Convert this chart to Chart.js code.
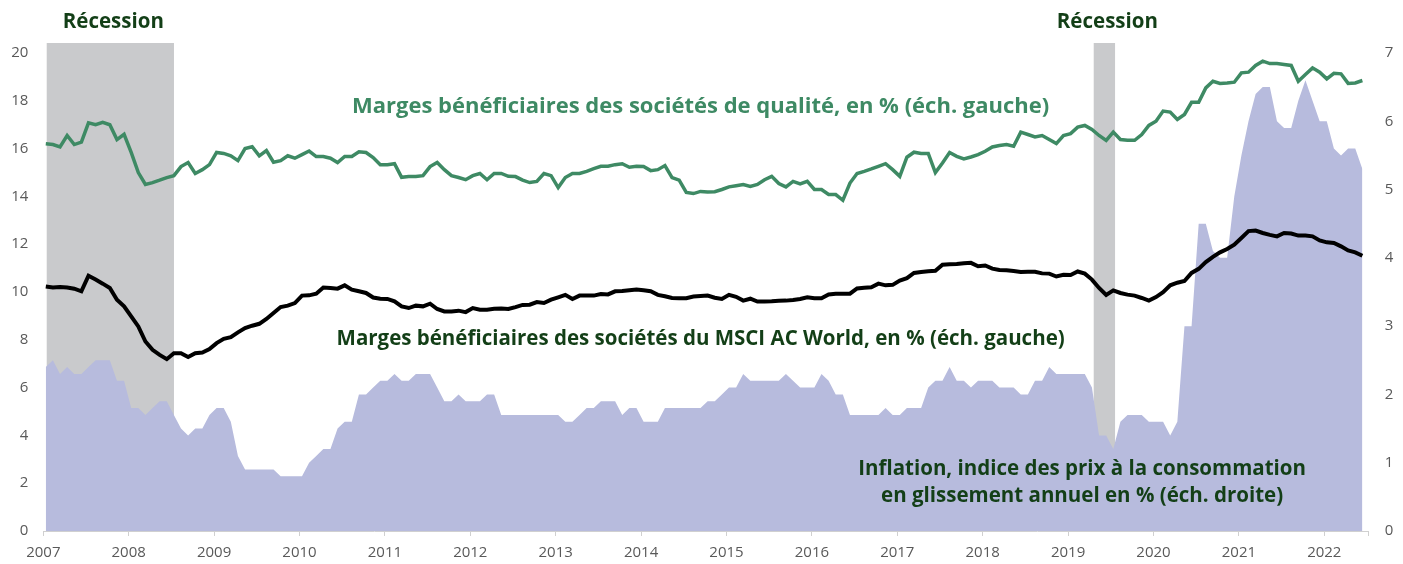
<!DOCTYPE html>
<html lang="fr">
<head>
  <meta charset="UTF-8">
  <title>Marges bénéficiaires et inflation</title>
  <script src="https://cdn.jsdelivr.net/npm/chart.js@4.4.1/dist/chart.umd.min.js"></script>
  <style>
    html, body { margin: 0; padding: 0; background: #fff; }
    #wrap { width: 1403px; height: 564px; position: relative; }
  </style>
</head>
<body>
  <div id="wrap"><canvas id="chart"></canvas></div>
  <script>
    // monthly data, Jan 2007 -> Jun 2022
    const startYear = 2007;
    const yearLabels = [2007, 2008, 2009, 2010, 2011, 2012, 2013, 2014, 2015, 2016, 2017, 2018, 2019, 2020, 2021, 2022];
    const leftTicks = [0, 2, 4, 6, 8, 10, 12, 14, 16, 18, 20];
    const rightTicks = [0, 1, 2, 3, 4, 5, 6, 7];

    // Marges bénéficiaires des sociétés de qualité (%, left)
    const quality = [
      16.2, 16.17, 16.07, 16.55, 16.17, 16.27, 17.08, 17.0, 17.1, 17.0, 16.38, 16.6,
      15.84, 15.0, 14.5, 14.58, 14.68, 14.79, 14.87, 15.25, 15.42, 14.96, 15.12, 15.33,
      15.84, 15.8, 15.7, 15.5, 16.0, 16.08, 15.7, 15.92, 15.43, 15.5, 15.7, 15.6,
      15.75, 15.9, 15.67, 15.67, 15.6, 15.42, 15.67, 15.67, 15.87, 15.84, 15.63, 15.33,
      15.33, 15.37, 14.8, 14.83, 14.83, 14.87, 15.25, 15.42, 15.12, 14.87, 14.79, 14.7,
      14.87, 14.96, 14.7, 14.96, 14.96, 14.84, 14.83, 14.68, 14.58, 14.63, 14.96, 14.87,
      14.37, 14.79, 14.96, 14.96, 15.05, 15.16, 15.26, 15.26, 15.33, 15.37, 15.22, 15.26,
      15.25, 15.08, 15.12, 15.29, 14.79, 14.68, 14.17, 14.12, 14.21, 14.19, 14.2, 14.29,
      14.4, 14.45, 14.5, 14.42, 14.5, 14.7, 14.84, 14.54, 14.4, 14.63, 14.52, 14.63,
      14.29, 14.29, 14.08, 14.08, 13.84, 14.56, 14.96, 15.05, 15.15, 15.26, 15.37, 15.12,
      14.84, 15.64, 15.85, 15.8, 15.8, 15.0, 15.4, 15.84, 15.68, 15.57, 15.65, 15.75,
      15.89, 16.07, 16.13, 16.17, 16.1, 16.69, 16.59, 16.49, 16.55, 16.38, 16.21, 16.55,
      16.63, 16.9, 16.97, 16.8, 16.55, 16.34, 16.69, 16.38, 16.35, 16.35, 16.59, 16.97,
      17.15, 17.57, 17.53, 17.22, 17.43, 17.94, 17.94, 18.54, 18.82, 18.73, 18.75, 18.78,
      19.17, 19.2, 19.48, 19.66, 19.56, 19.56, 19.52, 19.48, 18.82, 19.1, 19.38, 19.2,
      18.92, 19.15, 19.13, 18.73, 18.75, 18.85
    ];

    // Marges bénéficiaires des sociétés du MSCI AC World (%, left)
    const msci = [
      10.23, 10.19, 10.21, 10.19, 10.14, 10.03, 10.68, 10.52, 10.35, 10.17, 9.68, 9.4,
      8.98, 8.56, 7.93, 7.58, 7.37, 7.19, 7.44, 7.44, 7.28, 7.44, 7.47, 7.61,
      7.86, 8.04, 8.11, 8.31, 8.49, 8.59, 8.67, 8.87, 9.12, 9.37, 9.43, 9.54,
      9.85, 9.86, 9.93, 10.19, 10.17, 10.14, 10.28, 10.1, 10.03, 9.96, 9.77, 9.72,
      9.71, 9.61, 9.4, 9.33, 9.43, 9.4, 9.51, 9.29, 9.19, 9.19, 9.22, 9.16,
      9.33, 9.26, 9.26, 9.3, 9.31, 9.29, 9.37, 9.46, 9.47, 9.58, 9.54, 9.68,
      9.78, 9.88, 9.71, 9.85, 9.85, 9.85, 9.92, 9.9, 10.03, 10.04, 10.07, 10.1,
      10.07, 10.03, 9.88, 9.82, 9.75, 9.74, 9.74, 9.81, 9.83, 9.85, 9.76, 9.71,
      9.88, 9.8, 9.64, 9.72, 9.6, 9.6, 9.61, 9.63, 9.64, 9.67, 9.71, 9.78,
      9.74, 9.74, 9.9, 9.93, 9.93, 9.93, 10.15, 10.18, 10.2, 10.35, 10.28, 10.3,
      10.48, 10.58, 10.8, 10.84, 10.87, 10.89, 11.14, 11.16, 11.17, 11.2, 11.22, 11.08,
      11.11, 10.98, 10.92, 10.91, 10.88, 10.84, 10.85, 10.85, 10.78, 10.77, 10.65, 10.72,
      10.71, 10.86, 10.77, 10.52, 10.17, 9.88, 10.07, 9.96, 9.89, 9.85, 9.75, 9.64,
      9.79, 9.99, 10.28, 10.39, 10.46, 10.8, 10.97, 11.25, 11.47, 11.66, 11.8, 11.98,
      12.26, 12.55, 12.57, 12.47, 12.39, 12.33, 12.47, 12.45, 12.36, 12.36, 12.33, 12.16,
      12.08, 12.05, 11.91, 11.74, 11.66, 11.52
    ];

    // Inflation, glissement annuel (%, right)
    const inflation = [
      2.4, 2.5, 2.3, 2.4, 2.3, 2.3, 2.4, 2.5, 2.5, 2.5, 2.2, 2.2,
      1.8, 1.8, 1.7, 1.8, 1.9, 1.9, 1.7, 1.5, 1.4, 1.5, 1.5, 1.7,
      1.8, 1.8, 1.6, 1.1, 0.9, 0.9, 0.9, 0.9, 0.9, 0.8, 0.8, 0.8,
      0.8, 1.0, 1.1, 1.2, 1.2, 1.5, 1.6, 1.6, 2.0, 2.0, 2.1, 2.2,
      2.2, 2.3, 2.2, 2.2, 2.3, 2.3, 2.3, 2.1, 1.9, 1.9, 2.0, 1.9,
      1.9, 1.9, 2.0, 2.0, 1.7, 1.7, 1.7, 1.7, 1.7, 1.7, 1.7, 1.7,
      1.7, 1.6, 1.6, 1.7, 1.8, 1.8, 1.9, 1.9, 1.9, 1.7, 1.8, 1.8,
      1.6, 1.6, 1.6, 1.8, 1.8, 1.8, 1.8, 1.8, 1.8, 1.9, 1.9, 2.0,
      2.1, 2.1, 2.3, 2.2, 2.2, 2.2, 2.2, 2.2, 2.3, 2.2, 2.1, 2.1,
      2.1, 2.3, 2.2, 2.0, 2.0, 1.7, 1.7, 1.7, 1.7, 1.7, 1.8, 1.7,
      1.7, 1.8, 1.8, 1.8, 2.1, 2.2, 2.2, 2.4, 2.2, 2.2, 2.1, 2.2,
      2.2, 2.2, 2.1, 2.1, 2.1, 2.0, 2.0, 2.2, 2.2, 2.4, 2.3, 2.3,
      2.3, 2.3, 2.3, 2.1, 1.4, 1.4, 1.2, 1.6, 1.7, 1.7, 1.7, 1.6,
      1.6, 1.6, 1.4, 1.6, 3.0, 3.0, 4.5, 4.5, 4.1, 4.0, 4.0, 4.9,
      5.5, 6.0, 6.4, 6.5, 6.5, 6.0, 5.9, 5.9, 6.3, 6.6, 6.3, 6.0,
      6.0, 5.6, 5.5, 5.6, 5.6, 5.3
    ];

    // shaded recession periods (decimal years)
    const recessions = [[2007.04, 2008.53], [2019.30, 2019.55]];

    const toPoints = arr => arr.map((v, i) => ({ x: startYear + (i + 0.35) / 12, y: v }));

    const FONT = "'Open Sans', 'Noto Sans', sans-serif";
    const DARK = '#133f17';
    const GREEN = '#3e8a64';

    const overlay = {
      id: 'overlay',
      beforeDatasetsDraw(chart) {
        const { ctx, chartArea, scales: { x } } = chart;
        ctx.save();
        ctx.fillStyle = '#c9cacc';
        recessions.forEach(([a, b]) => {
          const x0 = x.getPixelForValue(a), x1 = x.getPixelForValue(b);
          ctx.fillRect(x0, chartArea.top, x1 - x0, chartArea.bottom - chartArea.top);
        });
        ctx.restore();
      },
      afterDraw(chart) {
        const { ctx, chartArea, scales: { x, y, y2 } } = chart;
        ctx.save();
        ctx.textAlign = 'center';
        ctx.textBaseline = 'middle';
        ctx.font = `bold 20.5px ${FONT}`;
        ctx.fillStyle = DARK;
        recessions.forEach(([a, b]) => {
          const cx = (x.getPixelForValue(a) + x.getPixelForValue(b)) / 2;
          ctx.fillText('Récession', cx + 3, chartArea.top - 21);
        });
        ctx.fillText('Marges bénéficiaires des sociétés du MSCI AC World, en % (éch. gauche)',
          x.getPixelForValue(2014.697), y.getPixelForValue(8.02));
        ctx.fillText('Inflation, indice des prix à la consommation',
          x.getPixelForValue(2019.164), y2.getPixelForValue(0.90));
        ctx.fillText('en glissement annuel en % (éch. droite)',
          x.getPixelForValue(2019.164), y2.getPixelForValue(0.51));
        ctx.font = `bold 22px ${FONT}`;
        ctx.fillStyle = GREEN;
        ctx.fillText('Marges bénéficiaires des sociétés de qualité, en % (éch. gauche)',
          x.getPixelForValue(2014.697), y.getPixelForValue(17.75));
        ctx.restore();
      }
    };

    new Chart(document.getElementById('chart'), {
      type: 'line',
      data: {
        datasets: [
          {
            label: 'Marges bénéficiaires des sociétés de qualité',
            data: toPoints(quality),
            yAxisID: 'y',
            borderColor: GREEN,
            borderWidth: 3.5,
            pointRadius: 0,
            tension: 0,
            fill: false
          },
          {
            label: 'Marges bénéficiaires des sociétés du MSCI AC World',
            data: toPoints(msci),
            yAxisID: 'y',
            borderColor: '#000000',
            borderWidth: 4,
            pointRadius: 0,
            tension: 0,
            fill: false
          },
          {
            label: 'Inflation',
            data: toPoints(inflation),
            yAxisID: 'y2',
            borderWidth: 0,
            borderColor: 'rgba(0,0,0,0)',
            backgroundColor: '#b7bbdd',
            pointRadius: 0,
            tension: 0,
            fill: 'origin'
          }
        ]
      },
      options: {
        responsive: true,
        maintainAspectRatio: false,
        animation: false,
        layout: { padding: { top: 43, left: 0, right: 0, bottom: 0 } },
        plugins: { legend: { display: false }, tooltip: { enabled: false } },
        scales: {
          x: {
            type: 'linear',
            min: 2007,
            max: 2022.52,
            afterFit: s => { s.height = 33; },
            afterBuildTicks: s => { s.ticks = yearLabels.map(v => ({ value: v })).concat([{ value: 2022.52 }]); },
            ticks: {
              autoSkip: false,
              maxRotation: 0,
              padding: 8,
              color: '#595959',
              font: { family: FONT, size: 15 },
              callback: v => Number.isInteger(v) ? String(v) : ''
            },
            grid: { drawOnChartArea: false, drawTicks: true, tickLength: 5, color: '#d0d0d0' },
            border: { display: true, color: '#d0d0d0' }
          },
          y: {
            position: 'left',
            min: 0,
            max: 20.42,
            afterFit: s => { s.width = 43.3; },
            afterBuildTicks: s => { s.ticks = leftTicks.map(v => ({ value: v })); },
            ticks: { padding: 15, color: '#595959', font: { family: FONT, size: 15 } },
            grid: { display: false, drawTicks: false },
            border: { display: false }
          },
          y2: {
            position: 'right',
            min: 0,
            max: 7.146,
            afterFit: s => { s.width = 34.3; },
            afterBuildTicks: s => { s.ticks = rightTicks.map(v => ({ value: v })); },
            ticks: { padding: 16, color: '#595959', font: { family: FONT, size: 15 } },
            grid: { display: false, drawTicks: false },
            border: { display: false }
          }
        }
      },
      plugins: [overlay]
    });
  </script>
</body>
</html>
